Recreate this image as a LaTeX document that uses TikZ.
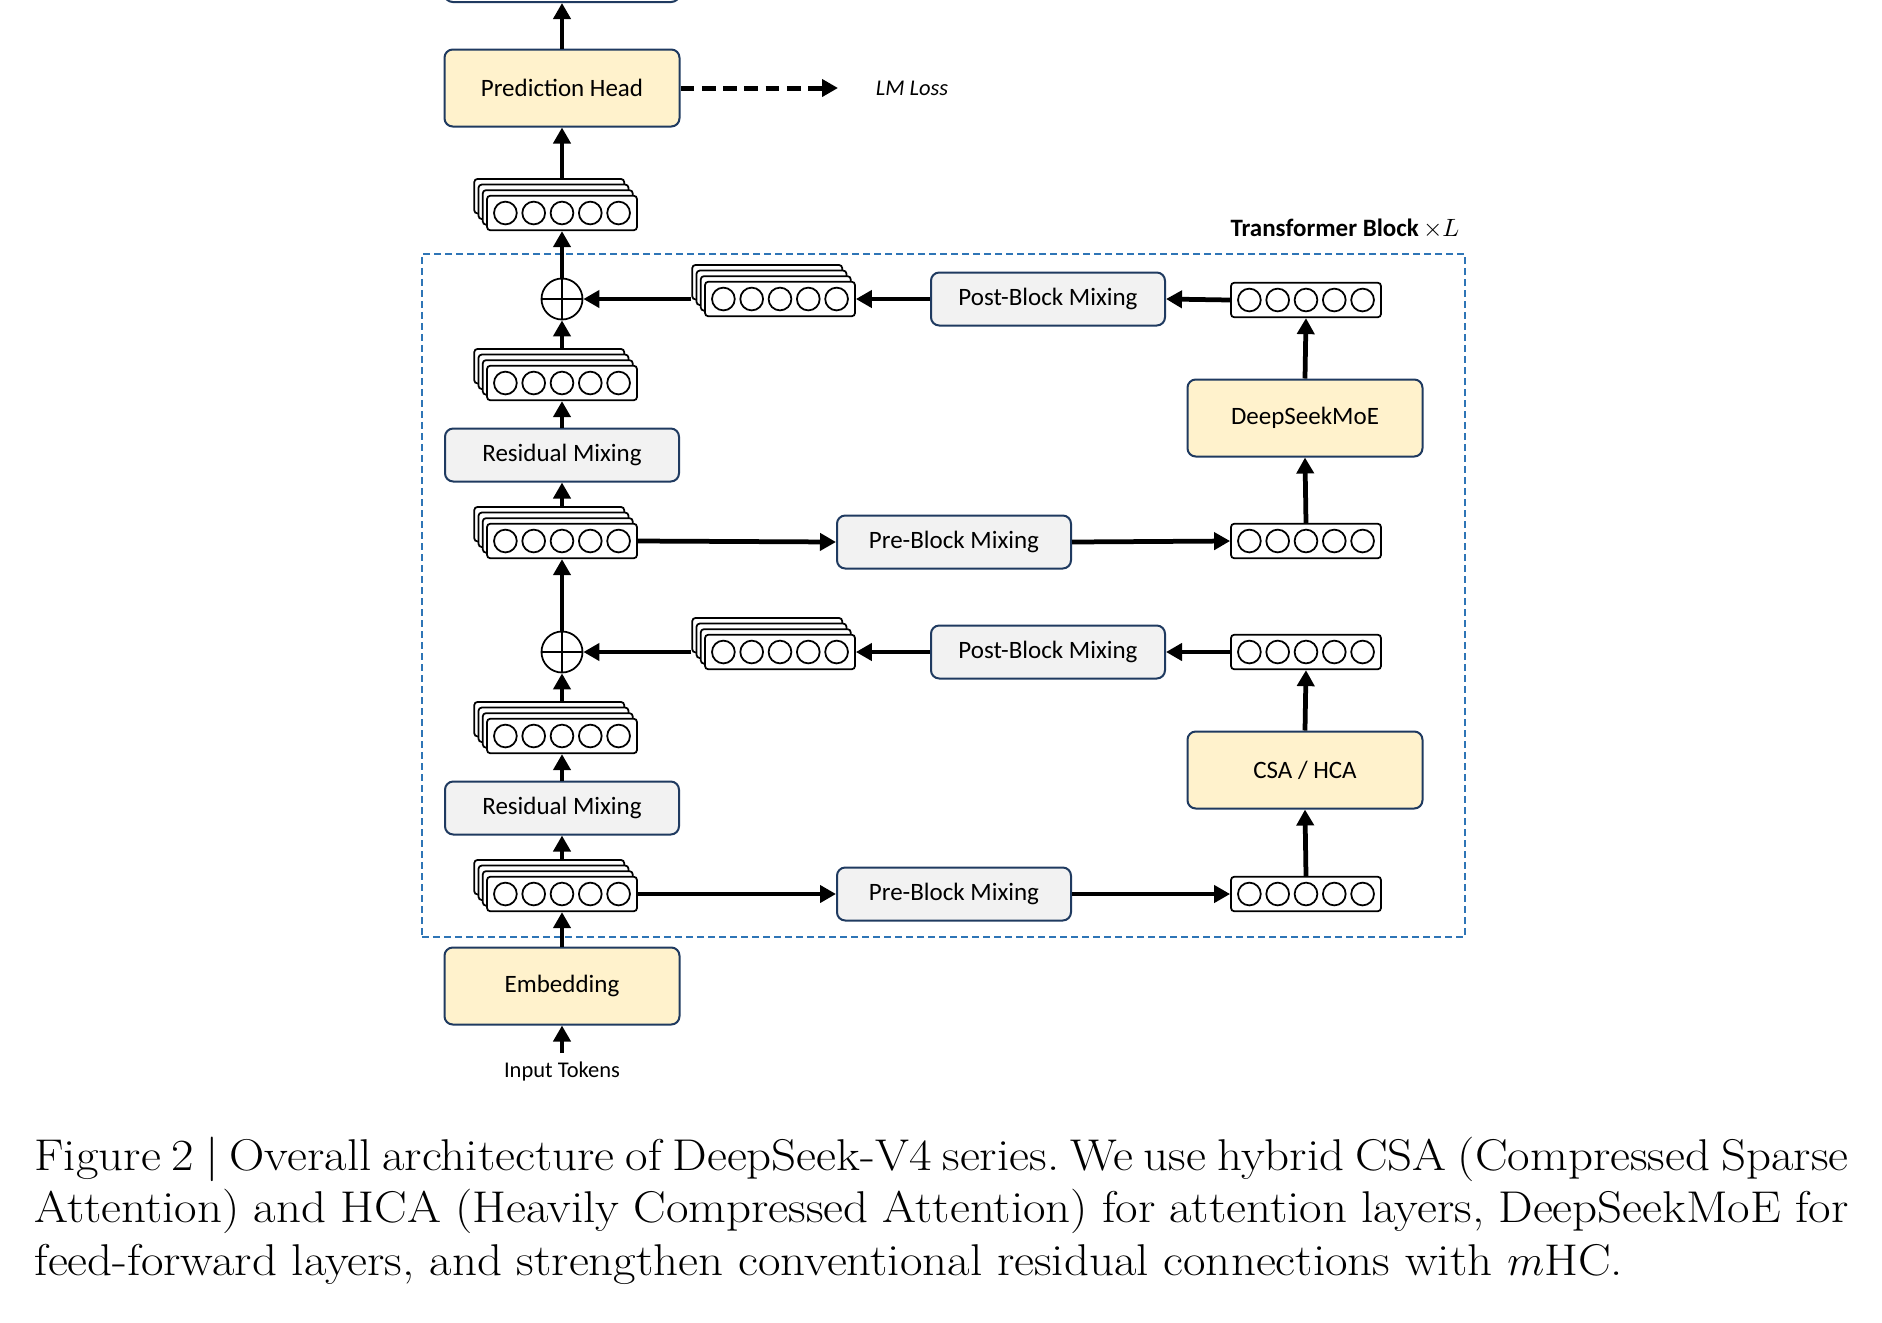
\documentclass[tikz,border=0pt]{standalone}
\usepackage{fontspec}
\newfontfamily\diagfont{Carlito}
\newfontfamily\capfont[FakeStretch=1.1]{Latin Modern Roman}
\usetikzlibrary{arrows.meta}
\definecolor{boxborder}{HTML}{1F3A60}
\definecolor{yel}{HTML}{FFF2CC}
\definecolor{gry}{HTML}{F2F2F2}
\definecolor{dashblue}{HTML}{2E75B6}
\newcommand{\mystack}[2]{%
  \foreach \k in {3,2,1}{\node[vrect, xshift=-\k*1.7pt, yshift=\k*2.24pt] (#1b\k) at (#2) {};}
  \node[vrect] (#1) at (#2) {};
  \foreach \i in {-2,...,2}{\draw[line width=0.7pt] ([xshift=\i*11.32pt]#1.center) circle[radius=4.55pt];}
}
\newcommand{\myvec}[2]{%
  \node[vrect] (#1) at (#2) {};
  \foreach \i in {-2,...,2}{\draw[line width=0.7pt] ([xshift=\i*11.32pt]#1.center) circle[radius=4.55pt];}
}
\begin{document}
\begin{tikzpicture}[x=0.4pt,y=-0.4pt,
  ybox/.style={draw=boxborder, line width=0.8pt, fill=yel, rounded corners=3.3pt,
    minimum width=94pt, minimum height=30.8pt, inner sep=0pt,
    font=\diagfont\fontsize{10}{12}\selectfont},
  gbox/.style={draw=boxborder, line width=0.8pt, fill=gry, rounded corners=3.3pt,
    minimum width=93.6pt, minimum height=21.2pt, inner sep=0pt,
    font=\diagfont\fontsize{10}{12}\selectfont},
  vrect/.style={draw, line width=0.7pt, fill=white, rounded corners=1.3pt,
    minimum width=60pt, minimum height=13.8pt, inner sep=0pt},
  arr/.style={line width=1.9pt, -{Triangle[width=6.8pt,length=6.4pt]}},
  plusnode/.style={circle, draw, line width=0.7pt, minimum size=16.4pt, inner sep=0pt, fill=white,
    path picture={\draw[line width=0.7pt] (path picture bounding box.north) -- (path picture bounding box.south)
      (path picture bounding box.west) -- (path picture bounding box.east);}},
  lbl/.style={font=\diagfont\fontsize{9}{11}\selectfont, inner sep=0pt},
  captionline/.style={anchor=base west, inner sep=0pt, font=\capfont\fontsize{17.8}{21}\selectfont}
]
\useasboundingbox (0,0) rectangle (1882,1322);
\clip (0,0) rectangle (1882,1322);

% top (cut off) box and prediction head
\node[draw=boxborder, line width=0.8pt, rounded corners=3.3pt, minimum width=94pt,
  minimum height=30pt, anchor=south] (topbox) at (562,3) {};
\node[ybox] (ph) at (562,88) {Prediction Head};
\coordinate (lmend) at (838,88);
\node[lbl, font=\diagfont\itshape\fontsize{9}{11}\selectfont] (lm) at (912,88) {LM Loss};

% transformer block frame
\node[draw=dashblue, line width=0.8pt, dash pattern=on 2.7pt off 1.7pt,
  minimum width=417.2pt, minimum height=273.2pt, inner sep=0pt] (tb) at (943.5,595.5) {};
\node[anchor=base east, inner sep=0pt, font=\diagfont\fontsize{10}{12}\selectfont] (tbl) at (1460,236)
  {\textbf{Transformer Block}\,$\times L$};

% stacks and vectors
\mystack{s0}{562,213}
\mystack{s2}{562,383}
\mystack{s3}{562,541}
\mystack{s4}{780,299}
\mystack{s5}{562,736}
\mystack{s6}{562,894}
\mystack{s7}{780,652}
\myvec{vA}{1306,300}
\myvec{vB}{1306,541}
\myvec{vC}{1306,652}
\myvec{vD}{1306,894}

% plus nodes
\node[plusnode] (p2) at (562,299) {};
\node[plusnode] (p1) at (562,652) {};

% boxes
\node[gbox] (postA) at (1048,299) {Post-Block Mixing};
\node[ybox] (moe) at (1305,418) {DeepSeekMoE};
\node[gbox] (preA) at (954,542) {Pre-Block Mixing};
\node[gbox] (resA) at (562,455) {Residual Mixing};
\node[gbox] (postB) at (1048,652) {Post-Block Mixing};
\node[ybox] (csa) at (1305,770) {CSA / HCA};
\node[gbox] (preB) at (954,894) {Pre-Block Mixing};
\node[gbox] (resB) at (562,808) {Residual Mixing};
\node[ybox] (emb) at (562,986) {Embedding};
\node[lbl] (inp) at (562,1071) {Input Tokens};
\coordinate (inpTop) at (562,1053);

% connectors
\draw[arr] (ph.north) -- (topbox.south);
\draw[line width=2pt, dash pattern=on 5.5pt off 3pt, -{Triangle[width=6.8pt,length=6.4pt]}] (ph.east) -- (lmend);
\draw[arr] (s0.center |- s0b3.north) -- (ph.south);
\draw[arr] (p2.north) -- (s0.south);
\draw[arr] (s2.center |- s2b3.north) -- (p2.south);
\draw[arr] (s4b3.west |- s4.center) -- (p2.east);
\draw[arr] (postA.west) -- (s4.east);
\draw[arr] (vA.west) -- (postA.east);
\draw[arr] (moe.north) -- (vA.south);
\draw[arr] (vB.north) -- (moe.south);
\draw[arr] (preA.east) -- (vB.west);
\draw[arr] (s3.east) -- (preA.west);
\draw[arr] (resA.north) -- (s2.south);
\draw[arr] (s3.center |- s3b3.north) -- (resA.south);
\draw[arr] (p1.north) -- (s3.south);
\draw[arr] (s5.center |- s5b3.north) -- (p1.south);
\draw[arr] (s7b3.west |- s7.center) -- (p1.east);
\draw[arr] (postB.west) -- (s7.east);
\draw[arr] (vC.west) -- (postB.east);
\draw[arr] (csa.north) -- (vC.south);
\draw[arr] (vD.north) -- (csa.south);
\draw[arr] (preB.east) -- (vD.west);
\draw[arr] (s6.east) -- (preB.west);
\draw[arr] (resB.north) -- (s5.south);
\draw[arr] (s6.center |- s6b3.north) -- (resB.south);
\draw[arr] (emb.north) -- (s6.south);
\draw[arr] (inpTop) -- (emb.south);

% caption
\node[captionline] (c1) at (34,1170) {\frenchspacing\makebox[725.6pt][s]{Figure 2 | Overall architecture of DeepSeek-V4 series. We use hybrid CSA (Compressed Sparse}};
\node[captionline] (c2) at (34,1222) {\frenchspacing\makebox[725.6pt][s]{Attention) and HCA (Heavily Compressed Attention) for attention layers, DeepSeekMoE for}};
\node[captionline] (c3) at (34,1275) {\frenchspacing feed-forward layers, and strengthen conventional residual connections with $m$HC.};
\end{tikzpicture}
\end{document}
